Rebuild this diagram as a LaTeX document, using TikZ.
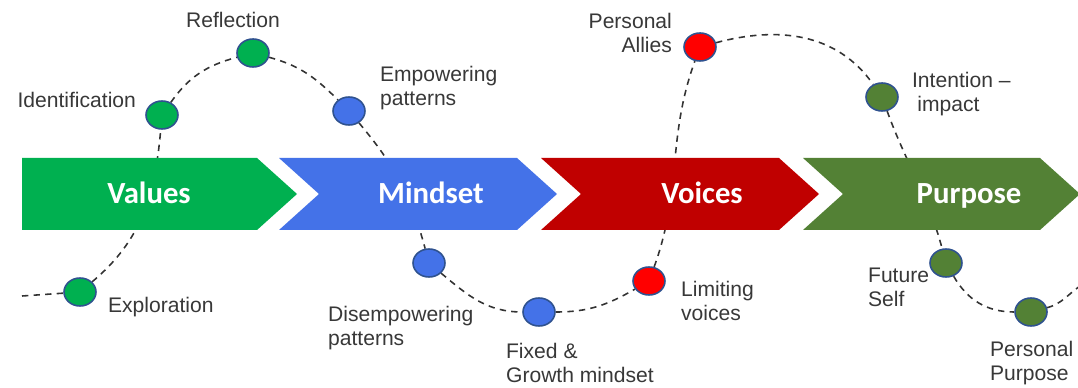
\documentclass[tikz,border=0pt]{standalone}
\usepackage{fontspec}
\setmainfont{Liberation Sans}
\newfontfamily\chevfont{Carlito}
\usepackage{tikz}
\usetikzlibrary{shapes.geometric, positioning, backgrounds}

\definecolor{valgreen}{HTML}{00B050}
\definecolor{mindblue}{HTML}{4472E8}
\definecolor{voicered}{HTML}{C00000}
\definecolor{purpgreen}{HTML}{538135}
\definecolor{dotred}{HTML}{FF0000}
\definecolor{dotrim}{HTML}{2F528F}
\definecolor{labelgray}{HTML}{383838}

\begin{document}
\begin{tikzpicture}[
    x=0.02cm, y=-0.02cm,
    dot/.style={ellipse, draw=dotrim, line width=0.9pt, minimum width=0.64cm, minimum height=0.56cm, inner sep=0pt},
    lbl/.style={font=\fontsize{12}{13.6}\selectfont, text=labelgray, align=left, inner sep=1pt},
    chevtext/.style={font=\chevfont\bfseries\fontsize{17.5}{20}\selectfont, text=white, anchor=base},
    path/.style={draw=black!80, line width=0.9pt, dash pattern=on 3.6pt off 3pt}
]
\useasboundingbox (0,0) rectangle (1078,388);

% Dots on the path
\node[dot, fill=valgreen]  (expl)   at (80,292)  {};
\node[dot, fill=valgreen]  (ident)  at (162,115) {};
\node[dot, fill=valgreen]  (refl)   at (253,53)  {};
\node[dot, fill=mindblue]  (empow)  at (349,111) {};
\node[dot, fill=mindblue]  (disemp) at (429,263) {};
\node[dot, fill=mindblue]  (fixed)  at (539,312) {};
\node[dot, fill=dotred]    (limit)  at (649,281) {};
\node[dot, fill=dotred]    (allies) at (700,47)  {};
\node[dot, fill=purpgreen] (intent) at (882,97)  {};
\node[dot, fill=purpgreen] (future) at (946,263) {};
\node[dot, fill=purpgreen] (ppurp)  at (1031,312) {};

\coordinate (start) at (22,296);
\coordinate (stop) at (1080,286);

\begin{pgfonlayer}{background}
% Dashed journey line
\draw[path] (start) -- (expl)
    to[out=40, in=-95] (ident)
    to[out=55, in=195] (refl)
    to[out=-15, in=135] (empow)
    to[out=-50, in=105] (disemp)
    to[out=-40, in=180] (fixed)
    to[out=0, in=-150] (limit)
    to[out=70, in=-110] (allies)
    to[out=15, in=125] (intent)
    to[out=-70, in=105] (future)
    to[out=-60, in=180] (ppurp)
    to[out=15, in=-145] (stop);

% Chevrons
\fill[valgreen] (22,158) -- (257,158) -- (297,194) -- (257,230) -- (22,230) -- cycle;
\fill[mindblue] (279,158) -- (517,158) -- (557,194) -- (517,230) -- (279,230) -- (319,194) -- cycle;
\fill[voicered] (541,158) -- (779,158) -- (819,194) -- (779,230) -- (541,230) -- (581,194) -- cycle;
\fill[purpgreen] (803,158) -- (1040,158) -- (1080,194) -- (1040,230) -- (803,230) -- (843,194) -- cycle;
\end{pgfonlayer}

\node[chevtext] (values)  at (149,204) {Values};
\node[chevtext] (mindset) at (431,204) {Mindset};
\node[chevtext] (voices)  at (702,204) {Voices};
\node[chevtext] (purpose) at (969,204) {Purpose};

% Labels
\node[lbl, anchor=west] (lexpl)   at (106,307) {Exploration};
\node[lbl, anchor=east] (lident)  at (138,100) {Identification};
\node[lbl]              (lrefl)   at (233,20)  {Reflection};
\node[lbl, anchor=west] (lempow)  at (378,88)  {Empowering\\patterns};
\node[lbl, anchor=west] (ldisemp) at (326,328) {Disempowering\\patterns};
\node[lbl, anchor=west] (lfixed)  at (504,363) {Fixed \&\\Growth mindset};
\node[lbl, anchor=west] (llimit)  at (679,301) {Limiting\\voices};
\node[lbl, anchor=east, align=right] (lallies) at (674,33) {Personal\\Allies};
\node[lbl, anchor=west] (lintent) at (910,94)  {Intention –\\\hspace{0.25em}impact};
\node[lbl, anchor=west] (lfuture) at (866,287) {Future\\Self};
\node[lbl, anchor=west] (lppurp)  at (988,363) {Personal\\Purpose};
\end{tikzpicture}
\end{document}
